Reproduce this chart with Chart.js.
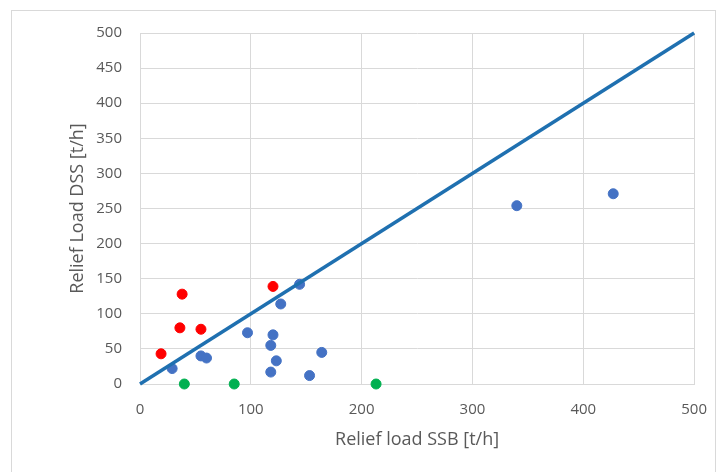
<!DOCTYPE html>
<html>
<head>
<meta charset="utf-8">
<script src="https://cdn.jsdelivr.net/npm/chart.js@4"></script>
<style>
  html, body { margin: 0; padding: 0; background: #fff; }
  #wrap { position: relative; width: 724px; height: 472px; }
  #frame { position: absolute; left: 11px; top: 10px; width: 705px; height: 470px; border: 1px solid #d9d9d9; box-sizing: border-box; }
  canvas { position: absolute; left: 0; top: 0; }
</style>
</head>
<body>
<div id="wrap">
  <div id="frame"></div>
  <canvas id="chart" width="724" height="472"></canvas>
</div>
<script>
// relief loads [t/h]: SSB on x, DSS on y
var blueSSB = [29, 55, 60, 97, 120, 118, 127, 144, 123, 118, 153, 164, 340, 427];
var blueDSS = [22, 40, 37, 73, 70, 55, 114, 142, 33, 17, 12, 45, 254, 271];
var redSSB = [19, 36, 55, 38, 120];
var redDSS = [43, 80, 78, 128, 139];
var greenSSB = [40, 85, 213];
var greenDSS = [0, 0, 0];
var diagonal = [0, 500];
var xTickValues = [0, 100, 200, 300, 400, 500];
var yTickValues = [0, 50, 100, 150, 200, 250, 300, 350, 400, 450, 500];

function pts(xs, ys) {
  return xs.map(function (x, i) { return { x: x, y: ys[i] }; });
}
function fixedTicks(values) {
  return function (s) { s.ticks = values.map(function (v) { return { value: v }; }); };
}

var grey = "#595959";
var font = "'Open Sans', sans-serif";

new Chart(document.getElementById("chart"), {
  type: "scatter",
  data: {
    datasets: [
      {
        label: "1:1",
        type: "line",
        data: pts(diagonal, diagonal),
        borderColor: "#1f70b0",
        borderWidth: 3.5,
        pointRadius: 0,
        fill: false,
        order: 0,
      },
      {
        label: "blue",
        data: pts(blueSSB, blueDSS),
        backgroundColor: "#4472c4",
        borderColor: "#4472c4",
        pointRadius: 5,
        order: 1,
      },
      {
        label: "red",
        data: pts(redSSB, redDSS),
        backgroundColor: "#ff0000",
        borderColor: "#ff0000",
        pointRadius: 5,
        order: 1,
      },
      {
        label: "green",
        data: pts(greenSSB, greenDSS),
        backgroundColor: "#00b050",
        borderColor: "#00b050",
        pointRadius: 5,
        order: 1,
      },
    ],
  },
  options: {
    responsive: false,
    animation: false,
    clip: false,
    layout: { padding: { left: 0, top: 33, right: 28, bottom: 0 } },
    plugins: { legend: { display: false }, tooltip: { enabled: false } },
    scales: {
      x: {
        type: "linear",
        min: 0,
        max: 500,
        afterFit: function (s) { s.height = 88; },
        afterBuildTicks: fixedTicks(xTickValues),
        grid: { color: "#d9d9d9", drawTicks: false },
        border: { color: "#d9d9d9" },
        ticks: { color: grey, padding: 17, font: { family: font, size: 15 } },
        title: { display: true, text: "Relief load SSB [t/h]", color: grey, padding: { top: 0, bottom: 21 }, font: { family: font, size: 18 } },
      },
      y: {
        type: "linear",
        min: 0,
        max: 500,
        afterFit: function (s) { s.width = 140; },
        afterBuildTicks: fixedTicks(yTickValues),
        grid: { color: "#d9d9d9", drawTicks: false },
        border: { color: "#d9d9d9" },
        ticks: { color: grey, padding: 18, font: { family: font, size: 15 } },
        title: { display: true, text: "Relief Load DSS [t/h]", color: grey, padding: { top: 67, bottom: 0 }, font: { family: font, size: 18 } },
      },
    },
  },
});
</script>
</body>
</html>
